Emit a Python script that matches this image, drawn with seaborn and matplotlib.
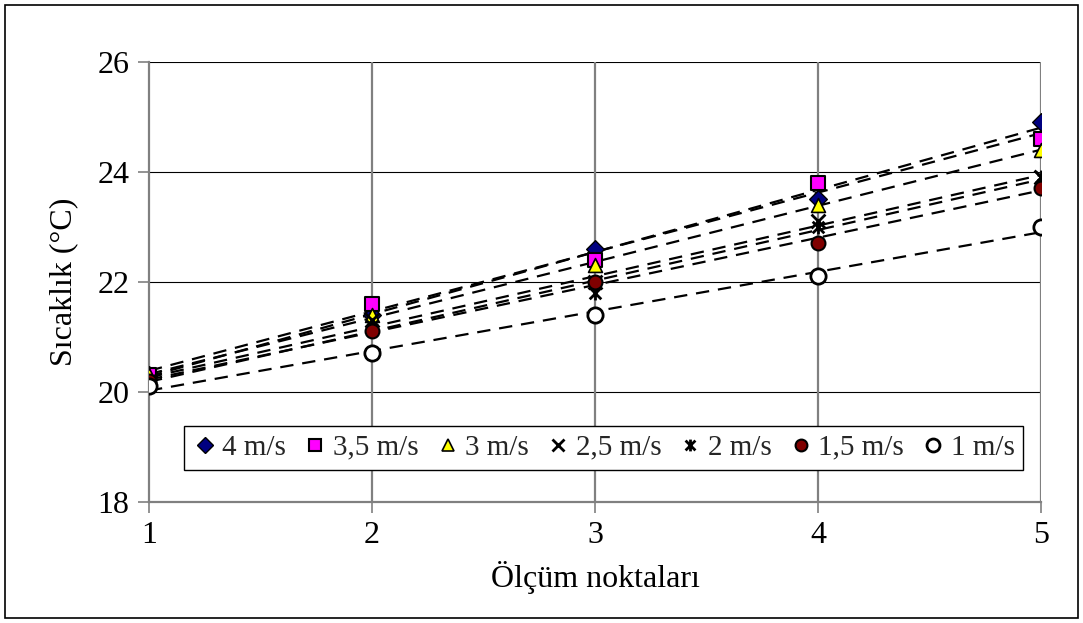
import numpy as np
import pandas as pd
import matplotlib
matplotlib.use("Agg")
import matplotlib.pyplot as plt
from matplotlib.path import Path
from matplotlib.lines import Line2D
from matplotlib.patches import Rectangle
import seaborn as sns

# Measurement points and temperatures (°C) for each air velocity
points = [1, 2, 3, 4, 5]
labels = ["4 m/s", "3,5 m/s", "3 m/s", "2,5 m/s", "2 m/s", "1,5 m/s", "1 m/s"]
v40 = [20.3, 21.4, 22.6, 23.5, 24.9]
v35 = [20.3, 21.6, 22.4, 23.8, 24.6]
v30 = [20.3, 21.4, 22.3, 23.4, 24.4]
v25 = [20.2, 21.3, 22.0, 23.1, 23.9]
v20 = [20.2, 21.2, 21.8, 23.0, 23.9]
v15 = [20.2, 21.1, 22.0, 22.7, 23.7]
v10 = [20.1, 20.7, 21.4, 22.1, 23.0]
series = [v40, v35, v30, v25, v20, v15, v10]

y_ticks = [18, 20, 22, 24, 26]

# Asterisk marker: a cross with a vertical bar through it
star = Path(
    [(-1, -1), (1, 1), (-1, 1), (1, -1), (0, -1.2), (0, 1.2)],
    [Path.MOVETO, Path.LINETO, Path.MOVETO, Path.LINETO, Path.MOVETO, Path.LINETO],
)

styles = [
    dict(marker="D", facecolor="#000080", edgecolor="black", size=9, lw=1.0),
    dict(marker="s", facecolor="#FF00FF", edgecolor="black", size=10, lw=1.5),
    dict(marker="^", facecolor="#FFFF00", edgecolor="black", size=10, lw=1.2),
    dict(marker="x", facecolor="black", edgecolor="black", size=10, lw=2.0),
    dict(marker=star, facecolor="black", edgecolor="black", size=10, lw=2.0),
    dict(marker="o", facecolor="#800000", edgecolor="black", size=10, lw=1.5),
    dict(marker="o", facecolor="white", edgecolor="black", size=11, lw=2.0),
]

df = pd.DataFrame({
    "nokta": np.tile(points, len(labels)),
    "sicaklik": np.concatenate(series),
    "hiz": np.repeat(labels, len(points)),
})

sns.set_theme(style="white")
plt.rcParams["font.family"] = ["Liberation Serif", "DejaVu Serif"]

fig = plt.figure(figsize=(10.83, 6.23), dpi=100)
ax = fig.add_axes([0.1376, 0.1947, 0.8236, 0.7063])

# Dashed linear trend lines
for lab in labels:
    sub = df[df["hiz"] == lab]
    sns.regplot(data=sub, x="nokta", y="sicaklik", ax=ax, ci=None, scatter=False,
                truncate=True,
                line_kws=dict(color="black", linestyle=(0, (6, 4)), linewidth=1.6, zorder=3))

# Data markers
handles = []
for lab, st in zip(labels, styles):
    sub = df[df["hiz"] == lab]
    filled = st["marker"] not in ("x",) and st["marker"] is not star
    sns.scatterplot(data=sub, x="nokta", y="sicaklik", ax=ax,
                    marker=st["marker"], s=st["size"] ** 2,
                    color=st["facecolor"] if filled else "black",
                    edgecolor=st["edgecolor"], linewidth=st["lw"], zorder=4,
                    legend=False)
    handles.append(Line2D([], [], linestyle="none", marker=st["marker"],
                          markersize=st["size"] * 0.85,
                          markerfacecolor=st["facecolor"] if filled else "black",
                          markeredgecolor=st["edgecolor"], markeredgewidth=st["lw"]))

ax.set_xlim(1, 5)
ax.set_ylim(18, 26)
ax.set_xticks(points)
ax.set_yticks(y_ticks)

# Grid: thin black horizontals, grey verticals
for y in y_ticks[1:]:
    ax.axhline(y, color="black", linewidth=0.8, zorder=1)
for x in points[1:]:
    ax.axvline(x, color="#808080", linewidth=1.6, zorder=1)

for side in ("top", "right"):
    ax.spines[side].set_visible(False)
for side in ("left", "bottom"):
    ax.spines[side].set_color("#808080")
    ax.spines[side].set_linewidth(1.6)

ax.tick_params(axis="both", which="both", direction="out", length=8, width=1.2,
               color="#808080", labelsize=23, labelcolor="black",
               left=True, bottom=True, pad=6)

ax.set_xlabel("Ölçüm noktaları", fontsize=23, color="black", labelpad=8)
ax.set_ylabel("Sıcaklık (°C)", fontsize=23, color="black", labelpad=14)

leg = ax.legend(handles, labels, loc="center", bbox_to_anchor=(0.51, 0.123),
                ncol=7, frameon=True, fancybox=False, framealpha=1,
                edgecolor="black", fontsize=21, handlelength=0.8,
                handletextpad=0.2, columnspacing=0.6, borderpad=0.3)
leg.get_frame().set_linewidth(1.0)
leg.set_zorder(5)

# Chart-area border
fig.patches.append(Rectangle((0.005, 0.008), 0.99, 0.984, transform=fig.transFigure,
                             fill=False, edgecolor="black", linewidth=1.2))

fig.savefig("out.png", dpi=100, facecolor="white")
